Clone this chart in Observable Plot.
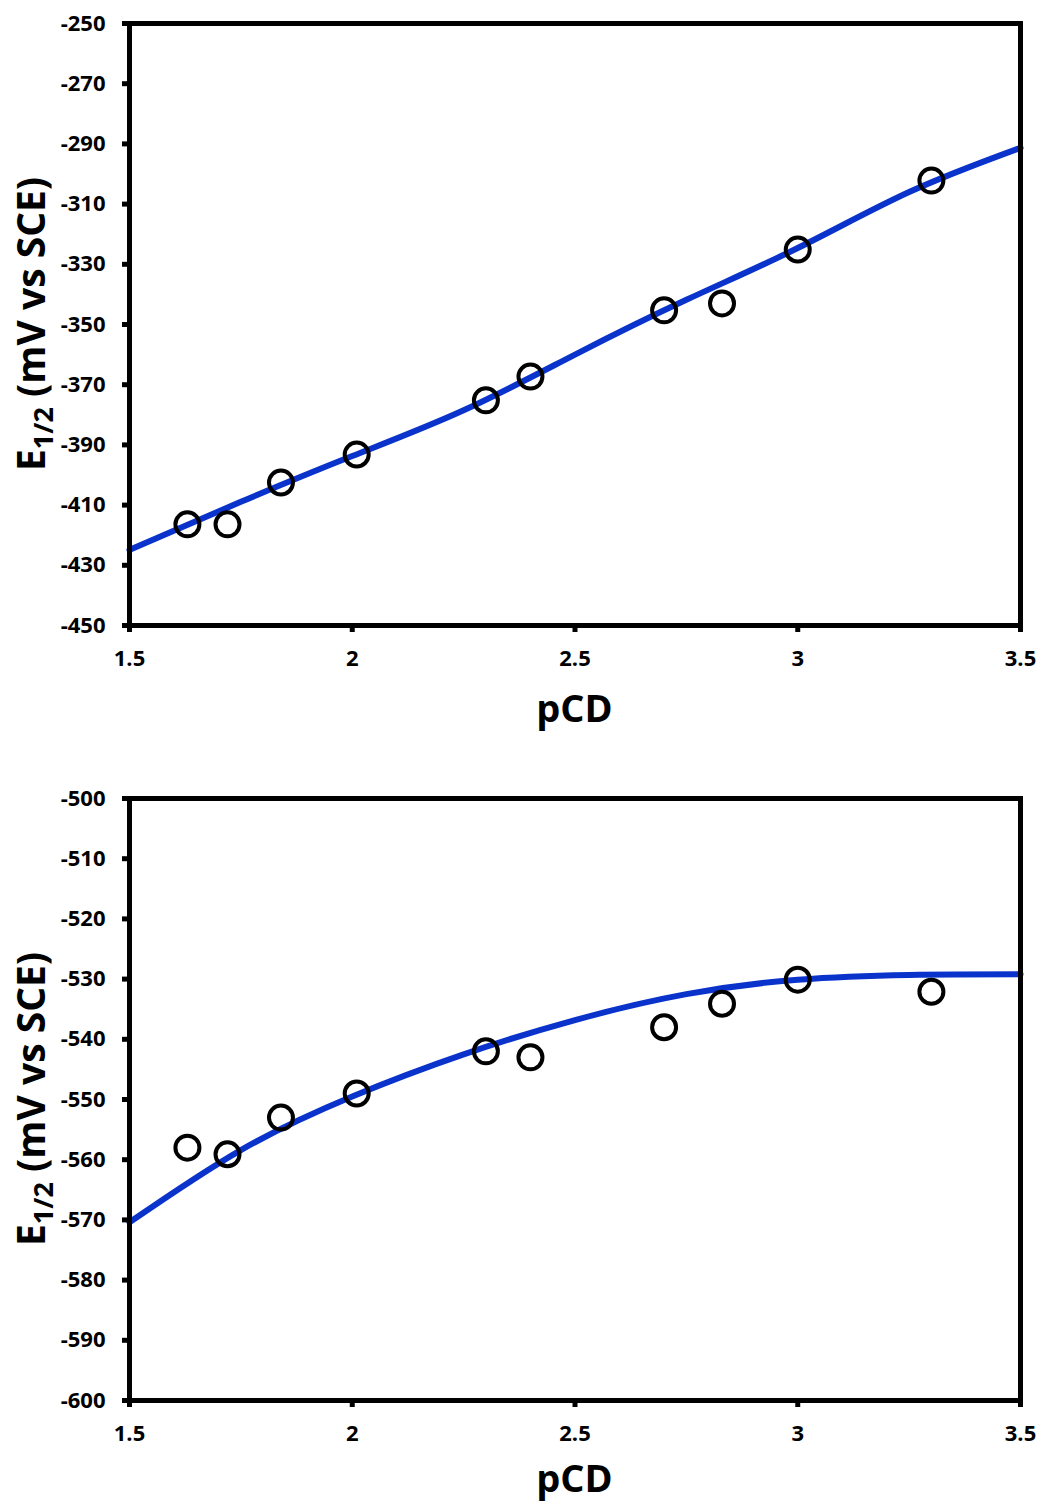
<!DOCTYPE html>
<html>
<head>
<meta charset="utf-8">
<script src="https://cdn.jsdelivr.net/npm/d3@7"></script>
<script src="https://cdn.jsdelivr.net/npm/@observablehq/plot@0.6"></script>
<style>
  html, body { margin: 0; padding: 0; background: #fff; }
  #chart svg { display: block; overflow: visible; }
</style>
</head>
<body>
<div id="chart"></div>
<script>
// ---- data ----
const pCD = [1.63, 1.72, 1.84, 2.01, 2.30, 2.40, 2.70, 2.83, 3.00, 3.30];
const topE = [-416.4, -416.4, -402.5, -393.2, -375.2, -367.3, -345.3, -343.0, -325.1, -302.2];
const bottomE = [-558.0, -559.1, -553.0, -549.0, -542.0, -543.0, -538.0, -534.1, -530.1, -532.1];

const fitX = [1.5, 1.75, 2.0, 2.25, 2.5, 2.75, 3.0, 3.25, 3.5];
const topFitY = [-424.9, -408.9, -393.7, -378.5, -360.0, -341.8, -324.6, -306.0, -291.3];
const bottomFitY = [-570.4, -558.4, -549.5, -542.5, -536.8, -532.5, -530.1, -529.3, -529.2];

const xTicks = [1.5, 2, 2.5, 3, 3.5];
const topYTicks = [-450, -430, -410, -390, -370, -350, -330, -310, -290, -270, -250];
const bottomYTicks = [-600, -590, -580, -570, -560, -550, -540, -530, -520, -510, -500];

const xLabel = "pCD";
const yLabelMain = "E";
const yLabelSub = "1/2";
const yLabelRest = " (mV vs SCE)";

const FONT = "'Open Sans', 'DejaVu Sans', sans-serif";
const BLUE = "#0a33cc";

function panel({ys, fitY, yDomain, yTicks, height, marginTop, marginBottom, xLabelOffset}) {
  const pts = pCD.map((x, i) => ({x, y: ys[i]}));
  const fit = fitX.map((x, i) => ({x, y: fitY[i]}));
  const W = 1040, ML = 129, MR = 20;
  const svg = Plot.plot({
    width: W,
    height,
    marginLeft: ML,
    marginRight: MR,
    marginTop,
    marginBottom,
    style: {fontFamily: FONT, background: "white"},
    x: {domain: [1.5, 3.5]},
    y: {domain: yDomain},
    marks: [
      Plot.line(fit, {x: "x", y: "y", stroke: BLUE, strokeWidth: 6, curve: "natural"}),
      Plot.dot(pts, {x: "x", y: "y", r: 12, stroke: "black", strokeWidth: 4, fill: "none"}),
      Plot.frame({stroke: "black", strokeWidth: 5}),
      Plot.axisY({ticks: yTicks, tickFormat: d => String(d), tickSize: 7, tickPadding: 17,
                  strokeWidth: 5, fontSize: 22, fontWeight: "bold", label: null, color: "black"}),
      Plot.axisX({ticks: xTicks, tickFormat: d => String(d), tickSize: 7, tickPadding: 18,
                  strokeWidth: 5, fontSize: 22, fontWeight: "bold", label: null, color: "black"})
    ]
  });
  const s = d3.select(svg);
  const plotTop = marginTop, plotBottom = height - marginBottom;
  const cx = ML + (W - ML - MR) / 2;
  s.append("text")
    .attr("x", cx).attr("y", plotBottom + xLabelOffset)
    .attr("text-anchor", "middle")
    .attr("font-family", FONT).attr("font-weight", "bold").attr("font-size", 38)
    .attr("fill", "black")
    .text(xLabel);
  const cy = (plotTop + plotBottom) / 2;
  const t = s.append("text")
    .attr("transform", `translate(45,${cy}) rotate(-90)`)
    .attr("text-anchor", "middle")
    .attr("font-family", FONT).attr("font-weight", "bold").attr("font-size", 39)
    .attr("fill", "black");
  t.append("tspan").text(yLabelMain);
  t.append("tspan").attr("font-size", 27).attr("dy", 8).text(yLabelSub);
  t.append("tspan").attr("dy", -8).text(yLabelRest);
  return svg;
}

const root = document.getElementById("chart");
root.appendChild(panel({ys: topE, fitY: topFitY, yDomain: [-450, -250],
  yTicks: topYTicks, height: 750, marginTop: 23, marginBottom: 125, xLabelOffset: 97}));
root.appendChild(panel({ys: bottomE, fitY: bottomFitY, yDomain: [-600, -500],
  yTicks: bottomYTicks, height: 753, marginTop: 48, marginBottom: 103, xLabelOffset: 92}));
</script>
</body>
</html>
